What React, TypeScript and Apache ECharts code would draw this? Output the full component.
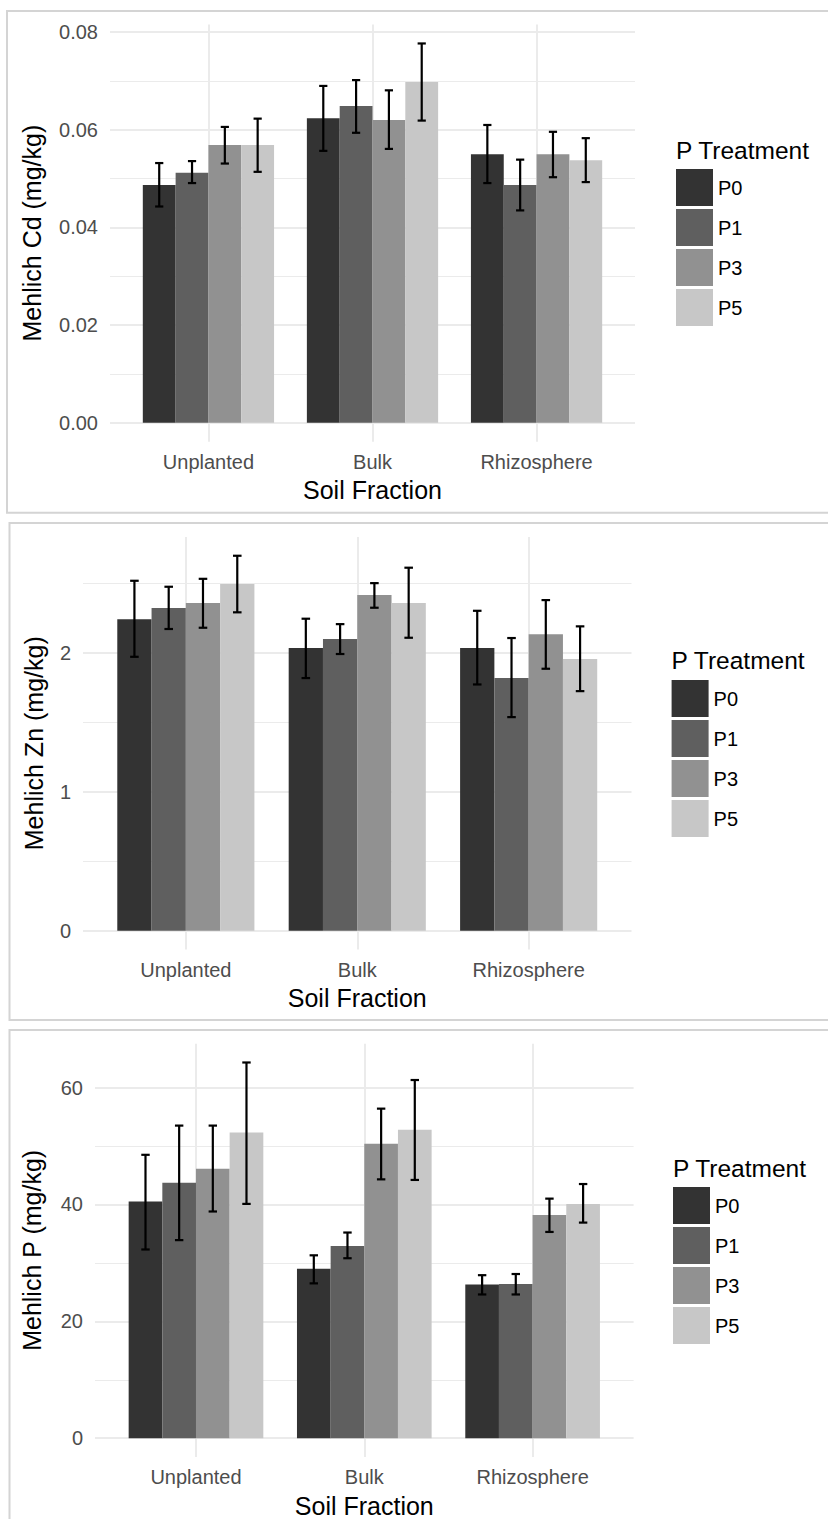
import React, { useEffect, useRef } from "react";
import * as echarts from "echarts";

const FONT = '"Liberation Sans", Arial, Helvetica, sans-serif';

// Soil fractions on the x axis and the P treatments that are dodged within them
const fractions = ["Unplanted", "Bulk", "Rhizosphere"];
const treatments = ["P0", "P1", "P3", "P5"];
const fills = ["#333333", "#5f5f5f", "#919191", "#c7c7c7"];

// Mehlich Cd (mg/kg): rows = P0, P1, P3, P5; columns = Unplanted, Bulk, Rhizosphere
const cdMean = [
  [0.0487, 0.0624, 0.055],
  [0.0512, 0.0649, 0.0487],
  [0.0569, 0.062, 0.055],
  [0.0569, 0.0698, 0.0538],
];
const cdLow = [
  [0.0443, 0.0557, 0.0491],
  [0.0491, 0.0594, 0.0435],
  [0.0531, 0.0561, 0.0503],
  [0.0514, 0.0619, 0.0493],
];
const cdHigh = [
  [0.0532, 0.069, 0.061],
  [0.0536, 0.0702, 0.0539],
  [0.0606, 0.0681, 0.0596],
  [0.0623, 0.0777, 0.0583],
];
const cdTicks = [0, 0.02, 0.04, 0.06, 0.08];
const cdMinor = [0.01, 0.03, 0.05, 0.07];

// Mehlich Zn (mg/kg)
const znMean = [
  [2.242, 2.034, 2.034],
  [2.322, 2.099, 1.818],
  [2.358, 2.415, 2.134],
  [2.494, 2.358, 1.955],
];
const znLow = [
  [1.971, 1.818, 1.772],
  [2.171, 1.991, 1.537],
  [2.18, 2.324, 1.885],
  [2.291, 2.108, 1.724],
];
const znHigh = [
  [2.518, 2.245, 2.302],
  [2.475, 2.206, 2.106],
  [2.532, 2.501, 2.379],
  [2.698, 2.612, 2.19],
];
const znTicks = [0, 1, 2];
const znMinor = [0.5, 1.5, 2.5];

// Mehlich P (mg/kg)
const pMean = [
  [40.5, 29.0, 26.3],
  [43.7, 32.9, 26.4],
  [46.1, 50.4, 38.2],
  [52.3, 52.8, 40.1],
];
const pLow = [
  [32.3, 26.5, 24.6],
  [33.9, 30.8, 24.6],
  [38.8, 44.3, 35.3],
  [40.1, 44.2, 36.9],
];
const pHigh = [
  [48.5, 31.3, 27.9],
  [53.5, 35.2, 28.1],
  [53.5, 56.4, 41.0],
  [64.3, 61.3, 43.5],
];
const pTicks = [0, 20, 40, 60];
const pMinor = [10, 30, 50];

const yTitles = ["Mehlich Cd (mg/kg)", "Mehlich Zn (mg/kg)", "Mehlich P (mg/kg)"];

// Page layout of the three stacked panels
const layout = [
  {
    grid: { left: 110, top: 24.5, width: 525, height: 417.2 },
    frame: { x: 7, y: 11, h: 501.7 },
    yNameGap: 66,
    legend: { left: 676, top: 169, titleY: 150 },
  },
  {
    grid: { left: 83, top: 537, width: 548.5, height: 412.5 },
    frame: { x: 9.5, y: 523, h: 497 },
    yNameGap: 37,
    legend: { left: 671.6, top: 680, titleY: 660 },
  },
  {
    grid: { left: 95, top: 1043.7, width: 538.6, height: 413.8 },
    frame: { x: 9.5, y: 1030, h: 520 },
    yNameGap: 51,
    legend: { left: 673, top: 1187, titleY: 1168 },
  },
];

const panels = [
  { mean: cdMean, low: cdLow, high: cdHigh, ticks: cdTicks, minor: cdMinor, fmt: (v: number) => v.toFixed(2) },
  { mean: znMean, low: znLow, high: znHigh, ticks: znTicks, minor: znMinor, fmt: (v: number) => String(v) },
  { mean: pMean, low: pLow, high: pHigh, ticks: pTicks, minor: pMinor, fmt: (v: number) => String(v) },
];

const DODGE = 0.8; // total width of a fraction's group of bars, in category units
const GRID_COLOR = "#ebebeb";

function buildOption() {
  const grid: any[] = [];
  const xAxis: any[] = [];
  const yAxis: any[] = [];
  const legend: any[] = [];
  const series: any[] = [];
  const graphic: any[] = [];
  const positions = fractions.map((_, i) => i + 1);

  panels.forEach((p, k) => {
    const L = layout[k];
    // continuous axis padded by 5% of the data range, as in ggplot
    const top = Math.max(...p.high.flat(), ...p.mean.flat());
    const pad = top * 0.05;

    grid.push({ ...L.grid });

    xAxis.push({
      type: "value",
      gridIndex: k,
      min: 0.4,
      max: fractions.length + 0.6,
      axisLine: { show: false },
      axisTick: { show: false, customValues: positions },
      splitLine: { show: false },
      axisLabel: {
        customValues: positions,
        formatter: (v: number) => fractions[Math.round(v) - 1] ?? "",
        fontSize: 20,
        color: "#4d4d4d",
        fontFamily: FONT,
        margin: 10,
      },
      name: "Soil Fraction",
      nameLocation: "middle",
      nameGap: 36,
      nameTextStyle: { fontSize: 25, color: "#000", fontFamily: FONT },
    });

    yAxis.push({
      type: "value",
      gridIndex: k,
      min: -pad,
      max: top + pad,
      axisLine: { show: false },
      axisTick: { show: false, customValues: p.ticks },
      splitLine: { show: false },
      axisLabel: {
        customValues: p.ticks,
        formatter: (v: number) => p.fmt(v),
        fontSize: 20,
        color: "#4d4d4d",
        fontFamily: FONT,
        margin: 12,
      },
      name: yTitles[k],
      nameLocation: "middle",
      nameRotate: 90,
      nameGap: L.yNameGap,
      nameTextStyle: { fontSize: 25, color: "#000", fontFamily: FONT },
    });

    legend.push({
      orient: "vertical",
      left: L.legend.left,
      top: L.legend.top,
      padding: 0,
      itemWidth: 37,
      itemHeight: 37,
      itemGap: 3,
      icon: "rect",
      selectedMode: false,
      data: treatments,
      textStyle: { fontSize: 20, color: "#000", fontFamily: FONT },
    });

    const gridLines = [
      ...p.ticks.map((v) => ({ yAxis: v, lineStyle: { width: 2 } })),
      ...p.minor.map((v) => ({ yAxis: v, lineStyle: { width: 1.2 } })),
      ...positions.map((v) => ({ xAxis: v, lineStyle: { width: 2 } })),
    ];

    treatments.forEach((t, j) => {
      series.push({
        type: "bar",
        name: t,
        xAxisIndex: k,
        yAxisIndex: k,
        barGap: "0%",
        barCategoryGap: `${(1 - DODGE) * 100}%`,
        itemStyle: { color: fills[j] },
        z: 2,
        data: positions.map((x, i) => [x, p.mean[j][i]]),
      });
    });

    const errData: number[][] = [];
    treatments.forEach((_, j) => {
      positions.forEach((x, i) => {
        const xc = x + (j - (treatments.length - 1) / 2) * (DODGE / treatments.length);
        errData.push([xc, p.low[j][i], p.high[j][i]]);
      });
    });

    // error bars; this series also carries the panel's grid lines
    series.push({
      type: "custom",
      name: "error",
      xAxisIndex: k,
      yAxisIndex: k,
      z: 3,
      silent: true,
      encode: { x: 0, y: [1, 2] },
      data: errData,
      markLine: {
        silent: true,
        symbol: "none",
        z: 1,
        label: { show: false },
        emphasis: { disabled: true },
        lineStyle: { color: GRID_COLOR, type: "solid" },
        data: gridLines,
      },
      renderItem: (_params: any, api: any) => {
        const x = api.value(0);
        const lo = api.coord([x, api.value(1)]);
        const hi = api.coord([x, api.value(2)]);
        const barW = api.size([DODGE / treatments.length, 0])[0];
        const half = barW * 0.125;
        const style = { stroke: "#000", lineWidth: 2.2 };
        return {
          type: "group",
          children: [
            { type: "line", shape: { x1: lo[0], y1: lo[1], x2: hi[0], y2: hi[1] }, style },
            { type: "line", shape: { x1: lo[0] - half, y1: lo[1], x2: lo[0] + half, y2: lo[1] }, style },
            { type: "line", shape: { x1: hi[0] - half, y1: hi[1], x2: hi[0] + half, y2: hi[1] }, style },
          ],
        };
      },
    });

    graphic.push({
      type: "rect",
      silent: true,
      z: 0,
      shape: { x: L.frame.x, y: L.frame.y, width: 840 - L.frame.x, height: L.frame.h },
      style: { fill: "none", stroke: "#d4d4d4", lineWidth: 2 },
    });
    graphic.push({
      type: "text",
      silent: true,
      x: L.legend.left,
      y: L.legend.titleY,
      style: {
        text: "P Treatment",
        fontSize: 24.5,
        fontFamily: FONT,
        fill: "#000",
        verticalAlign: "middle",
        align: "left",
      },
    });
  });

  return {
    animation: false,
    backgroundColor: "#ffffff",
    textStyle: { fontFamily: FONT },
    grid,
    xAxis,
    yAxis,
    legend,
    series,
    graphic,
  };
}

export default function App() {
  const ref = useRef<HTMLDivElement>(null);

  useEffect(() => {
    if (!ref.current) return;
    const chart = echarts.init(ref.current, null, { renderer: "svg" });
    chart.setOption(buildOption() as any);
    return () => chart.dispose();
  }, []);

  return (
    <div
      ref={ref}
      style={{ position: "absolute", left: 0, top: 0, width: 828, height: 1519, background: "#fff" }}
    />
  );
}
